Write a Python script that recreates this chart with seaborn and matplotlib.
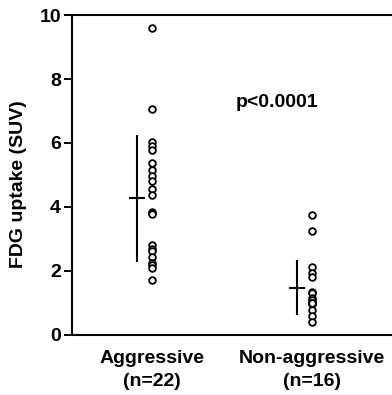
import matplotlib
matplotlib.use("Agg")
import matplotlib.pyplot as plt
import seaborn as sns
import pandas as pd
import numpy as np

# ---- data ----
groups = ["Aggressive", "Non-aggressive"]
group_labels = ["Aggressive\n(n=22)", "Non-aggressive\n(n=16)"]
aggressive = [9.6, 7.05, 6.03, 5.9, 5.78, 5.37, 5.16, 4.97, 4.8, 4.56, 4.38,
              3.84, 3.8, 3.78, 2.81, 2.7, 2.63, 2.44, 2.25, 2.2, 2.09, 1.72]
non_aggressive = [3.75, 3.25, 2.12, 1.95, 1.8, 1.34, 1.3, 1.16, 1.1, 1.0,
                  0.97, 1.0, 0.78, 1.0, 0.59, 0.41]
means = [4.27, 1.47]
sds = [1.98, 0.86]
y_ticks = [0, 2, 4, 6, 8, 10]
p_text = "p<0.0001"

df = pd.DataFrame({
    "group": [groups[0]] * len(aggressive) + [groups[1]] * len(non_aggressive),
    "suv": aggressive + non_aggressive,
})

sns.set_style("ticks")
plt.rcParams["font.family"] = ["Liberation Sans", "DejaVu Sans"]
plt.rcParams["text.color"] = "black"
plt.rcParams["axes.labelcolor"] = "black"
plt.rcParams["xtick.color"] = "black"
plt.rcParams["ytick.color"] = "black"
plt.rcParams["axes.edgecolor"] = "black"

fig = plt.figure(figsize=(3.92, 3.95), dpi=100)
ax = fig.add_axes([0.184, 0.152, 0.816, 0.81])

sns.stripplot(data=df, x="group", y="suv", order=groups, jitter=False,
              color="white", edgecolor="black", linewidth=1.3, size=4.8, ax=ax)

offset = -0.094
xpos = np.arange(len(groups)) + offset
ax.errorbar(xpos, means, yerr=sds, fmt="none", ecolor="black",
            elinewidth=1.5, capsize=0)
ax.plot(xpos, means, linestyle="none", marker="_", markersize=12,
        markeredgewidth=1.5, color="black")

ax.text(0.78, 7.28, p_text, ha="center", va="center",
        fontsize=14, fontweight="bold", color="black")

ax.set_ylim(0, 10)
ax.set_xlim(-0.5, 1.5)
ax.set_yticks(y_ticks)
ax.set_yticklabels([str(t) for t in y_ticks], fontsize=14, fontweight="bold")
ax.set_xticks(range(len(groups)))
ax.set_xticklabels(group_labels, fontsize=14, fontweight="bold", linespacing=1.45)
ax.tick_params(axis="x", length=0, pad=11, colors="black")
ax.tick_params(axis="y", length=6, width=1.4, pad=2, colors="black")
ax.set_xlabel("")
ax.set_ylabel("FDG uptake (SUV)", fontsize=14, fontweight="bold", color="black")
ax.yaxis.set_label_coords(-0.14, 0.47)

for side in ["left", "bottom", "top"]:
    ax.spines[side].set_linewidth(1.5)
    ax.spines[side].set_color("black")
ax.spines["right"].set_visible(False)
ax.set_facecolor("white")
fig.patch.set_facecolor("white")

fig.savefig("out.png", dpi=100)
